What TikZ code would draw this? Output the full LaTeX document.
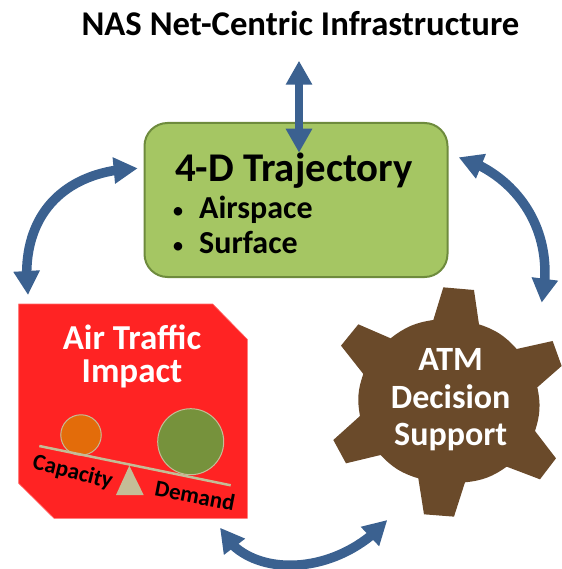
\documentclass[tikz,border=0pt]{standalone}
\usepackage{fontspec}
\setmainfont{Carlito}
\usetikzlibrary{arrows.meta,bending}
\definecolor{arrowblue}{HTML}{3B6190}
\definecolor{boxgreen}{HTML}{A5C663}
\definecolor{boxedge}{HTML}{6E8B3D}
\definecolor{impactred}{HTML}{FF2323}
\definecolor{gearbrown}{HTML}{6A4A2A}
\definecolor{tan}{HTML}{C4BD97}
\definecolor{ballorange}{HTML}{E36C0A}
\definecolor{ballgreen}{HTML}{76923C}
\tikzset{
  flow/.style={draw=arrowblue,line width=8pt,{Triangle[length=24pt,width=25pt,flex=1]}-{Triangle[length=24pt,width=25pt,flex=1]}},
  curved/.style={flow,line width=9.5pt},
  lbl/.style={inner sep=0pt,align=center,anchor=base},
  ball/.style={circle,draw=tan,line width=1pt,inner sep=0pt},
}
\begin{document}
\begin{tikzpicture}[x=1pt,y=-1pt]
\useasboundingbox (0,0) rectangle (561,569);
% trajectory box
\node[draw=boxedge,line width=2pt,fill=boxgreen,rounded corners=23pt,minimum width=303pt,minimum height=154pt,inner sep=0pt] (traj) at (296,200) {};
\node[lbl,font=\bfseries\fontsize{40.8}{41}\selectfont] (trajt) at (294,181.7) {4-D Trajectory};
\node[lbl,font=\fontsize{24}{24}\selectfont] (b1) at (178,218) {•};
\node[lbl,font=\bfseries\fontsize{32}{32}\selectfont,anchor=base west] (air) at (199,218) {Airspace};
\node[lbl,font=\fontsize{24}{24}\selectfont] (b2) at (178,253) {•};
\node[lbl,font=\bfseries\fontsize{32}{32}\selectfont,anchor=base west] (surf) at (199,253) {Surface};
\node[lbl,font=\bfseries\fontsize{34.7}{35}\selectfont] (title) at (300.5,36) {NAS Net-Centric Infrastructure};
% impact panel
\path[fill=impactred,draw=impactred!70!white,line width=.6pt] (18.7,304) -- (212.7,304) -- (247.3,339.3) -- (247.3,518.3) -- (54,518.3) -- (18.7,483.3) -- cycle;
\node[lbl,text=white,font=\bfseries\fontsize{35}{35}\selectfont] (air2) at (132,349) {Air Traffic};
\node[lbl,text=white,font=\bfseries\fontsize{35}{35}\selectfont] (imp) at (132,382) {Impact};
\node[ball,fill=ballorange,minimum size=40.5pt] (cap) at (81,435) {};
\node[ball,fill=ballgreen,minimum size=66pt] (dem) at (190.7,441.7) {};
\draw[tan,line width=2.5pt] (39.3,446) -- (230.7,485.3);
\fill[tan] (129.3,465.7) -- (143.7,495) -- (116,495) -- cycle;
\node[inner sep=0pt,font=\bfseries\fontsize{23}{23}\selectfont,rotate=-14] (capt) at (72.7,472.7) {Capacity};
\node[inner sep=0pt,font=\bfseries\fontsize{23}{23}\selectfont,rotate=-11] (demt) at (195,495.7) {Demand};
% gear
\begin{scope}[shift={(280,270)},x=0.3333pt,y=-0.3333pt]
\fill[gearbrown] (490,52) -- (582,60) -- (597,163) to[bend left=15] (710,237)
 -- (818,213) -- (845,288) -- (772,352) to[bend left=15] (765,483)
 -- (828,565) -- (780,628) -- (680,590) to[bend left=15] (555,637)
 -- (522,740) -- (432,733) -- (415,625) to[bend left=15] (302,555)
 -- (198,580) -- (160,510) -- (240,438) to[bend left=15] (250,312)
 -- (183,227) -- (235,163) -- (332,205) to[bend left=15] (460,150) -- cycle;
\end{scope}
\node[lbl,text=white,font=\bfseries\fontsize{34}{34}\selectfont] (atm) at (450.7,370.7) {ATM};
\node[lbl,text=white,font=\bfseries\fontsize{34}{34}\selectfont] (dec) at (450.7,408) {Decision};
\node[lbl,text=white,font=\bfseries\fontsize{34}{34}\selectfont] (sup) at (450.7,445.7) {Support};
% arrow ends
\coordinate (topa) at (299,60.7);
\coordinate (topb) at (299,152.7);
\coordinate (la) at (137.7,168.3);
\coordinate (lb) at (28,295);
\coordinate (ra) at (458.7,157.3);
\coordinate (rb) at (541.7,302.7);
\coordinate (ba) at (220,527.7);
\coordinate (bb) at (387.3,520);
\draw[flow] (topa) -- (topb);
\draw[curved] (la) .. controls (65,170) and (18,215) .. (lb);
\draw[curved] (ra) .. controls (510,172) and (558,225) .. (rb);
\draw[curved] (ba) .. controls (245,579) and (335,579) .. (bb);
\end{tikzpicture}
\end{document}
